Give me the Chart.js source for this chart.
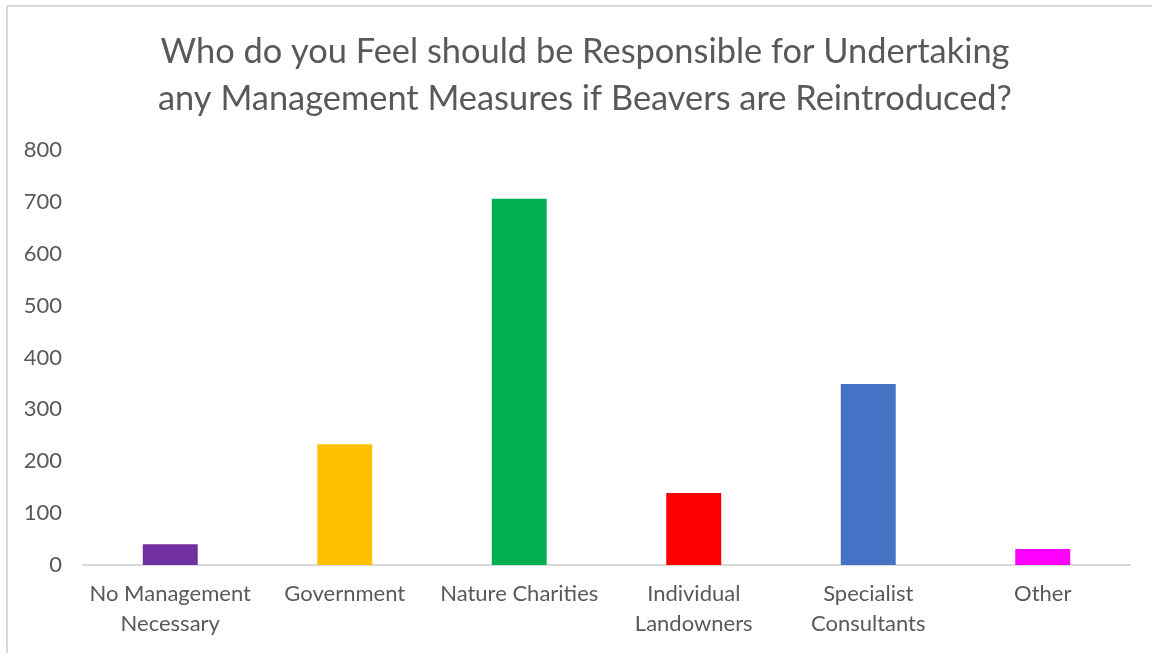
<!DOCTYPE html>
<html>
<head>
<meta charset="utf-8">
<script src="https://cdn.jsdelivr.net/npm/chart.js@4.4.0/dist/chart.umd.min.js"></script>
<style>
  html, body { margin: 0; padding: 0; background: #ffffff; overflow: hidden; }
  #frame {
    position: absolute; left: 6px; top: 5px; width: 1200px; height: 700px;
    border: 2px solid #d9d9d9; box-sizing: border-box;
  }
  #wrap { position: absolute; left: 0; top: 0; width: 1152px; height: 653px; }
</style>
</head>
<body>
<div id="frame"></div>
<div id="wrap"><canvas id="chart" width="1152" height="653"></canvas></div>
<script>
// Survey responses: who should undertake beaver management measures
const categories = [
  ['No Management', 'Necessary'],
  'Government',
  'Nature Charities',
  ['Individual', 'Landowners'],
  ['Specialist', 'Consultants'],
  'Other'
];
const responses = [40, 233, 706, 139, 349, 31];
const barColours = ['#7030A0', '#FFC000', '#00B050', '#FF0000', '#4472C4', '#FF00FF'];
const yTicks = [0, 100, 200, 300, 400, 500, 600, 700, 800];

const textColour = '#595959';
const fontFamily = 'Lato, "Open Sans", sans-serif';

// Nudge the title block so the heading sits slightly right of the plot centre
const titleShift = {
  id: 'titleShift',
  afterLayout(chart) {
    if (chart.titleBlock) {
      chart.titleBlock.left += 15;
      chart.titleBlock.right += 15;
    }
  }
};

new Chart(document.getElementById('chart'), {
  type: 'bar',
  data: {
    labels: categories,
    datasets: [{
      data: responses,
      backgroundColor: barColours,
      borderWidth: 0,
      categoryPercentage: 1,
      barPercentage: 0.315
    }]
  },
  plugins: [titleShift],
  options: {
    responsive: false,
    animation: false,
    layout: { padding: { left: 10, right: 22, top: 0, bottom: 0 } },
    plugins: {
      legend: { display: false },
      tooltip: { enabled: false },
      title: {
        display: true,
        text: ['Who do you Feel should be Responsible for Undertaking',
               'any Management Measures if Beavers are Reintroduced?'],
        color: textColour,
        font: { family: fontFamily, size: 34.4, weight: 'normal', lineHeight: 1.366 },
        padding: { top: 28, bottom: 28 }
      }
    },
    scales: {
      x: {
        grid: { display: false, drawTicks: false },
        border: { display: true, color: '#d9d9d9', width: 2 },
        ticks: {
          color: textColour,
          font: { family: fontFamily, size: 22, lineHeight: 1.36 },
          padding: 14,
          maxRotation: 0,
          autoSkip: false
        },
        afterFit: (axis) => { axis.height = 88; }
      },
      y: {
        min: 0,
        max: 800,
        grid: { display: false, drawTicks: false },
        border: { display: false },
        afterBuildTicks: (axis) => { axis.ticks = yTicks.map(v => ({ value: v })); },
        ticks: {
          color: textColour,
          font: { family: fontFamily, size: 22 },
          padding: 21
        },
        afterFit: (axis) => { axis.width = 73; }
      }
    }
  }
});
</script>
</body>
</html>
